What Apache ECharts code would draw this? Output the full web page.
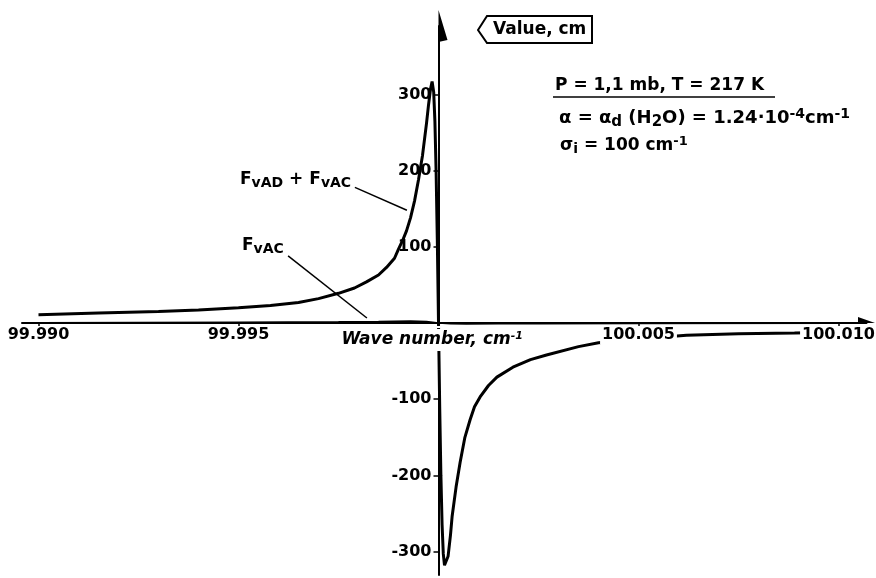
<!DOCTYPE html>
<html>
<head>
<meta charset="utf-8">
<script src="https://cdn.jsdelivr.net/npm/echarts@6/dist/echarts.min.js"></script>
<style>
  html, body { margin: 0; padding: 0; background: #fff; }
  #chart { width: 876px; height: 578px; }
</style>
</head>
<body>
<div id="chart"></div>
<script>
// Line centre of the water-vapour line, cm^-1
const lineCentre = 100;

// F_vAD + F_vAC : wave number (cm^-1) and value (cm)
const waveNumbers = [
  99.9900, 99.9915, 99.9930, 99.9940, 99.9950, 99.9958, 99.9965, 99.9970, 99.9975, 99.9979,
  99.9982, 99.9985, 99.9987, 99.9989, 99.9990, 99.9991, 99.9992, 99.9993, 99.9994, 99.9995,
  99.9996, 99.9997, 99.99975, 99.9998, 99.99984, 99.99988, 99.99991, 99.99994, 99.99997, 100.00000,
  100.00003, 100.00006, 100.00009, 100.00012, 100.00015, 100.00019, 100.00024, 100.00030, 100.00034, 100.00044,
  100.00054, 100.00066, 100.00079, 100.00090, 100.00104, 100.00125, 100.00146, 100.00186, 100.00230, 100.00270,
  100.00350, 100.00400, 100.00500, 100.00620, 100.00750, 100.00890, 100.01000
];
const sumValues = [
  11, 13, 15, 17, 20, 23, 27, 32, 39, 46,
  54, 63, 73, 85, 97, 108, 121, 138, 160, 188,
  220, 262, 286, 307, 317, 303, 265, 200, 110, 0,
  -110, -200, -265, -303, -318, -320, -306, -278, -254, -215,
  -183, -150, -127, -110, -97, -82, -71, -58, -48, -42,
  -31, -26, -21, -16, -14, -13, -12
];

// F_vAC alone (stays close to the axis)
const acWaveNumbers = [99.9900, 99.9950, 99.9975, 99.9985, 99.9993, 99.9997, 100.0000,
                       100.0003, 100.0007, 100.0015, 100.0025, 100.0050, 100.0100];
const acValues = [0.5, 1, 1.5, 2, 2.5, 2, 0, -1, -1.2, -1, -0.8, -0.5, -0.3];

// Leader lines from the curve names: [wave1, value1, wave2, value2]
const leaderSum = [99.99791, 178, 99.99921, 148];
const leaderAC = [99.99624, 88, 99.99821, 6.6];

// Tick steps of the two axes
const xTickStep = 0.005;
const yTickStep = 100;

// Axis extents (offset from the line centre, and value in cm)
const xRange = [-0.0104125, 0.0107];
const yRange = [-330.7, 389.8];

const FONT = 'DejaVu Sans';
const offset = w => +(w - lineCentre).toFixed(6);
const pairs = (xs, ys) => xs.map((w, i) => [offset(w), ys[i]]);
const isStep = (v, step) => Math.abs(v / step - Math.round(v / step)) < 1e-6;

// one-sided flag arrows at the axis ends
const xArrow = 'path://M0,0 L0,17 L-6,17 Z M6,17 Z';
const yArrow = 'path://M0,0 L9,30 L0,32 Z M-9,32 Z';

function makeRich(subSize) {
  return {
    sub: { fontFamily: FONT, fontWeight: 'bold', fontSize: subSize, lineHeight: 22, color: '#000', padding: [7, 0, 0, 0] },
    sup: { fontFamily: FONT, fontWeight: 'bold', fontSize: subSize - 1, lineHeight: 22, color: '#000', padding: [0, 0, 8, 0] }
  };
}
const note = (text, left, top, size, subSize) => ({
  text, left, top, padding: 0,
  textStyle: {
    fontFamily: FONT, fontWeight: 'bold', fontSize: size, lineHeight: 22, color: '#000',
    rich: makeRich(subSize)
  }
});

const chart = echarts.init(document.getElementById('chart'), null, { renderer: 'canvas' });

chart.setOption({
  animation: false,
  backgroundColor: '#fff',
  grid: { left: 22, right: 9.5, top: 26, bottom: 3, containLabel: false, outerBoundsMode: 'none' },
  title: [
    note('Value, cm', 493, 19, 17, 13),
    note('P = 1,1 mb, T = 217 K', 555, 75, 17, 13),
    note('α = α{sub|d} (H{sub|2}O) = 1.24·10{sup|-4}cm{sup|-1}', 559, 107.5, 18, 15),
    note('σ{sub|i} = 100 cm{sup|-1}', 560, 135, 17, 14),
    note('F{sub|vAD} + F{sub|vAC}', 240, 168.5, 17, 14),
    note('F{sub|vAC}', 242, 234.5, 17, 14)
  ],
  graphic: [
    {
      type: 'polygon', z: 10,
      shape: { points: [[478, 30], [487, 16], [592, 16], [592, 43], [487, 43]] },
      style: { fill: 'none', stroke: '#000', lineWidth: 2 }
    },
    {
      type: 'line', z: 10,
      shape: { x1: 553, y1: 97, x2: 775, y2: 97 },
      style: { stroke: '#000', lineWidth: 1.5 }
    }
  ],
  xAxis: {
    type: 'value',
    position: 'bottom',
    min: xRange[0],
    max: xRange[1],
    splitNumber: 4,
    z: 4,
    axisLine: {
      onZero: false,
      symbol: ['none', xArrow],
      symbolSize: [12, 17],
      lineStyle: { color: '#000', width: 2 }
    },
    axisTick: { show: true, length: 4, lineStyle: { color: '#000', width: 1.5 } },
    splitLine: { show: false },
    axisLabel: {
      showMinLabel: false,
      showMaxLabel: false,
      hideOverlap: false,
      formatter: v => (isStep(v, xTickStep) && Math.abs(v) > 1e-9) ? (lineCentre + v).toFixed(3) : '',
      fontFamily: FONT, fontWeight: 'bold', fontSize: 16, color: '#000',
      margin: 3, backgroundColor: '#fff', padding: [1, 2]
    },
    name: 'Wave number, cm{sup|-1}',
    nameLocation: 'middle',
    nameGap: 6,
    nameMoveOverlap: false,
    nameTextStyle: {
      fontFamily: FONT, fontWeight: 'bold', fontStyle: 'italic', fontSize: 17, lineHeight: 20, color: '#000',
      backgroundColor: '#fff', padding: [1, 26, 1, 2],
      rich: {
        sup: { fontFamily: FONT, fontWeight: 'bold', fontStyle: 'italic', fontSize: 11, lineHeight: 20, color: '#000', padding: [0, 0, 8, 0] }
      }
    }
  },
  yAxis: {
    type: 'value',
    position: 'left',
    min: yRange[0],
    max: yRange[1],
    splitNumber: 7,
    z: 3,
    axisLine: {
      onZero: false,
      symbol: ['none', yArrow],
      symbolSize: [18, 32],
      lineStyle: { color: '#000', width: 2 }
    },
    axisTick: { show: true, length: 5, lineStyle: { color: '#000', width: 1.5 } },
    splitLine: { show: false },
    axisLabel: {
      showMinLabel: false,
      showMaxLabel: false,
      hideOverlap: false,
      formatter: v => (isStep(v, yTickStep) && Math.abs(v) > 1e-9) ? String(Math.round(v)) : '',
      fontFamily: FONT, fontWeight: 'bold', fontSize: 16, color: '#000',
      margin: 6, backgroundColor: '#fff', padding: [0, 1]
    }
  },
  series: [
    {
      name: 'FvAD + FvAC',
      type: 'line',
      data: pairs(waveNumbers, sumValues),
      showSymbol: false,
      smooth: false,
      lineStyle: { color: '#000', width: 3 },
      silent: true
    },
    {
      name: 'FvAC',
      type: 'line',
      data: pairs(acWaveNumbers, acValues),
      showSymbol: false,
      lineStyle: { color: '#000', width: 1.5 },
      silent: true,
      markLine: {
        silent: true,
        symbol: ['none', 'none'],
        label: { show: false },
        lineStyle: { color: '#000', width: 1.5, type: 'solid' },
        data: [leaderSum, leaderAC].map(l => [
          { coord: [offset(l[0]), l[1]] },
          { coord: [offset(l[2]), l[3]] }
        ])
      }
    }
  ]
});

// Move both axes so that they cross at the origin (line centre, value 0)
const origin = chart.convertToPixel({ gridIndex: 0 }, [0, 0]);
const corner = chart.convertToPixel({ gridIndex: 0 }, [xRange[0], yRange[0]]);
chart.setOption({
  xAxis: { offset: origin[1] - corner[1] },
  yAxis: { offset: corner[0] - origin[0] }
});
</script>
</body>
</html>
